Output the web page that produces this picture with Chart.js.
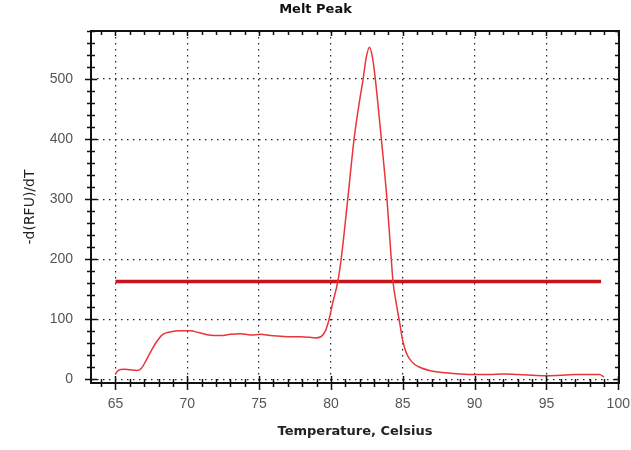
<!DOCTYPE html>
<html>
<head>
<meta charset="utf-8">
<script src="https://cdn.jsdelivr.net/npm/chart.js@4"></script>
<style>
  html, body { margin: 0; padding: 0; background: #fff; }
  #wrap { width: 631px; height: 450px; }
</style>
</head>
<body>
<div id="wrap"><canvas id="melt" width="631" height="450"></canvas></div>
<script>
// melt curve
var temps = [65.0, 65.2, 65.6, 66.0, 66.5, 66.8, 67.1, 67.5, 67.9, 68.3, 68.8, 69.5, 70.2, 70.8, 71.5, 72.3, 73.0, 73.7, 74.4, 75.1, 75.8, 76.5, 77.2, 77.9, 78.5, 78.9, 79.3, 79.6, 79.85, 80.1, 80.48, 80.71, 81.17, 81.61, 82.0, 82.24, 82.45, 82.68, 82.9, 83.09, 83.51, 83.9, 84.2, 84.32, 84.55, 84.8, 85.0, 85.25, 85.6, 86.1, 87.0, 88.0, 89.0, 90.0, 91.0, 92.0, 93.0, 94.0, 95.0, 96.0, 97.0, 98.0, 98.7, 99.0];
var rfu = [9, 15, 17, 16, 15, 18, 30, 48, 64, 75, 79, 81, 81, 78, 74, 73, 75, 76, 74, 75, 73, 72, 71, 71, 70, 69, 71, 80, 98, 125, 163, 200, 300, 400, 465, 500, 535, 553, 535, 500, 400, 300, 200, 163, 126, 92, 64, 44, 30, 21, 14, 11, 9, 8, 8, 9, 8, 7, 6, 7, 8, 8, 8, 4];

// threshold line
var threshX = [65, 98.8];
var threshY = [163, 163];

var xTicks = [65, 70, 75, 80, 85, 90, 95, 100];
var yTicks = [0, 100, 200, 300, 400, 500];

var curve = [];
for (var i = 0; i < temps.length; i++) {
    curve.push({x: temps[i], y: rfu[i]});
}
var thresh = [];
for (i = 0; i < threshX.length; i++) {
    thresh.push({x: threshX[i], y: threshY[i]});
}

// frame + minor/major ticks on all four sides
var frameTicks = {
    id: 'frameTicks',
    afterDraw: function(chart) {
        var ctx = chart.ctx;
        var a = chart.chartArea;
        var xs = chart.scales.x, ys = chart.scales.y;
        ctx.save();
        ctx.strokeStyle = '#111';
        ctx.lineWidth = 2;
        ctx.strokeRect(a.left, a.top, a.right - a.left, a.bottom - a.top);
        ctx.lineWidth = 1.5;
        ctx.beginPath();
        for (var v = 64; v <= 100; v++) {
            var px = Math.round(xs.getPixelForValue(v)) + 0.5;
            var big = v % 5 == 0;
            var l = big ? 7 : 4;
            ctx.moveTo(px, a.bottom - l); ctx.lineTo(px, a.bottom + l);
            ctx.moveTo(px, a.top); ctx.lineTo(px, a.top + (big ? 5 : 4));
        }
        for (v = 0; v <= 580; v += 20) {
            var py = Math.round(ys.getPixelForValue(v)) + 0.5;
            big = v % 100 == 0;
            l = big ? 6 : 4;
            ctx.moveTo(a.left - l, py); ctx.lineTo(a.left + l, py);
            ctx.moveTo(a.right, py); ctx.lineTo(a.right - (big ? 5 : 4), py);
        }
        ctx.stroke();
        ctx.restore();
    }
};

var ctx = document.getElementById('melt').getContext('2d');

new Chart(ctx, {
    type: 'line',
    data: {
        datasets: [{
            label: 'Melt Peak',
            data: curve,
            borderColor: '#e8353b',
            borderWidth: 1.5,
            pointRadius: 0,
            fill: false,
            cubicInterpolationMode: 'monotone'
        }, {
            label: 'Threshold',
            data: thresh,
            borderColor: '#c8141e',
            borderWidth: 3.5,
            pointRadius: 0,
            fill: false
        }]
    },
    options: {
        responsive: false,
        animation: false,
        layout: {padding: {left: 0, right: 0, top: 0, bottom: 0}},
        plugins: {
            legend: {display: false},
            tooltip: {enabled: false},
            title: {
                display: true,
                text: 'Melt Peak',
                color: '#111',
                font: {family: 'DejaVu Sans', size: 13, weight: 'bold'},
                padding: {top: 2.2, bottom: 13.2}
            }
        },
        scales: {
            x: {
                type: 'linear',
                min: 63.3,
                max: 100.05,
                afterBuildTicks: function(s) { s.ticks = xTicks.map(function(v) { return {value: v}; }); },
                afterFit: function(s) { s.height = 67; s.paddingLeft = 0; s.paddingRight = 12; },
                grid: {color: '#222', lineWidth: 1.2, drawTicks: false},
                border: {display: false, dash: [1.5, 4.5]},
                ticks: {
                    padding: 13,
                    color: '#555',
                    font: {family: 'Liberation Sans', size: 14},
                    maxRotation: 0
                },
                title: {
                    display: true,
                    text: 'Temperature, Celsius',
                    color: '#222',
                    font: {family: 'DejaVu Sans', size: 13, weight: 'bold'},
                    padding: {top: 10.2, bottom: 10.2}
                }
            },
            y: {
                type: 'linear',
                min: -6,
                max: 580,
                afterBuildTicks: function(s) { s.ticks = yTicks.map(function(v) { return {value: v}; }); },
                afterFit: function(s) { s.width = 91; },
                grid: {color: '#222', lineWidth: 1.2, drawTicks: false},
                border: {display: false, dash: [1.5, 4.5]},
                ticks: {
                    padding: 18,
                    color: '#555',
                    font: {family: 'Liberation Sans', size: 14}
                },
                title: {
                    display: true,
                    text: '-d(RFU)/dT',
                    color: '#222',
                    font: {family: 'DejaVu Sans', size: 14},
                    padding: {top: 21.6, bottom: 21.6}
                }
            }
        }
    },
    plugins: [frameTicks]
});
</script>
</body>
</html>
